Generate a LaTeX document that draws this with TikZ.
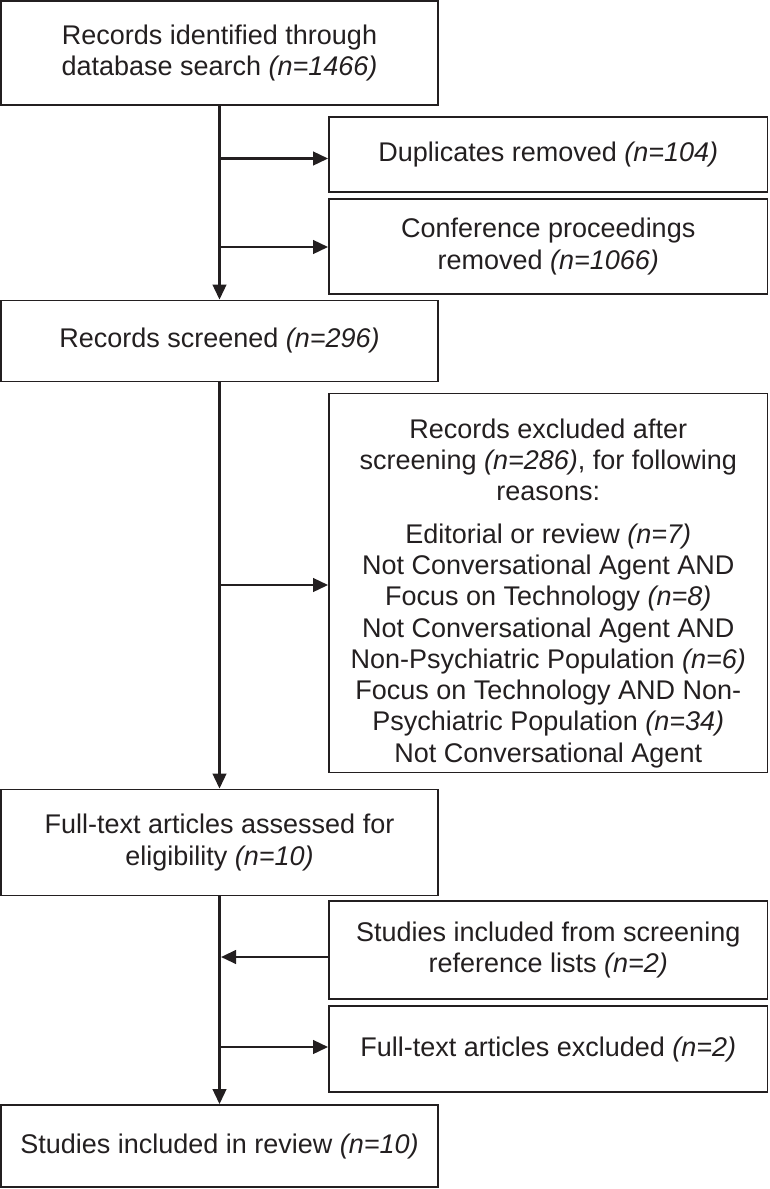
\documentclass[tikz,border=0pt]{standalone}
\usepackage{fontspec}
\setmainfont{Liberation Sans}
\usetikzlibrary{arrows.meta}
\definecolor{ink}{RGB}{35,31,32}
\begin{document}
\begin{tikzpicture}[x=1pt,y=-1pt,
    box/.style={draw=ink,line width=1.8pt,inner sep=0pt,align=center,text=ink,
      font=\fontsize{27}{31.3}\selectfont},
    lbox/.style={box,minimum width=437pt},
    rbox/.style={box,minimum width=438.5pt},
    flow/.style={draw=ink,line width=2.6pt,-{Triangle[length=15pt,width=13.5pt]}}]
  \useasboundingbox (0,0) rectangle (769,1189);

  % main column
  \node[lbox,minimum height=104pt] (ident) at (219.5,53)
    {Records identified through\\database search \textit{(n=1466)}};
  \node[lbox,minimum height=81pt] (screen) at (219.5,341)
    {Records screened \textit{(n=296)}};
  \node[lbox,minimum height=106pt] (fulltext) at (219.5,842.5)
    {Full-text articles assessed for\\eligibility \textit{(n=10)}};
  \node[lbox,minimum height=82pt] (review) at (219.5,1146)
    {Studies included in review \textit{(n=10)}};

  % side boxes
  \node[rbox,minimum height=75pt] (dupl) at (548.25,154.5)
    {Duplicates removed \textit{(n=104)}};
  \node[rbox,minimum height=95pt] (conf) at (548.25,246.5)
    {Conference proceedings\\removed \textit{(n=1066)}};
  \node[rbox,minimum height=379pt] (excl) at (548.25,583)
    {\rule{0pt}{40pt}Records excluded after\\screening \textit{(n=286)}, for following\\reasons:\\[11pt]
     Editorial or review \textit{(n=7)}\\Not Conversational Agent AND\\
     Focus on Technology \textit{(n=8)}\\Not Conversational Agent AND\\
     Non-Psychiatric Population \textit{(n=6)}\\Focus on Technology AND Non-\\
     Psychiatric Population \textit{(n=34)}\\Not Conversational Agent};
  \node[rbox,minimum height=98pt] (refl) at (548.25,950)
    {Studies included from screening\\reference lists \textit{(n=2)}};
  \node[rbox,minimum height=86pt] (ftexcl) at (548.25,1049)
    {Full-text articles excluded \textit{(n=2)}};

  % connectors
  \draw[flow] (ident) -- (screen);
  \draw[flow] (screen) -- (fulltext);
  \draw[flow] (fulltext) -- (review);

  \coordinate (j1) at (219.5,158.5);
  \coordinate (j2) at (219.5,247);
  \coordinate (j3) at (219.5,585);
  \coordinate (j4) at (221,957);
  \coordinate (j5) at (219.5,1047);
  \foreach \j/\b in {j1/dupl,j2/conf,j3/excl,j5/ftexcl} {
    \draw[flow] (\j) -- (\j -| \b.west);
  }
  \draw[flow] (j4 -| refl.west) -- (j4);
\end{tikzpicture}
\end{document}
